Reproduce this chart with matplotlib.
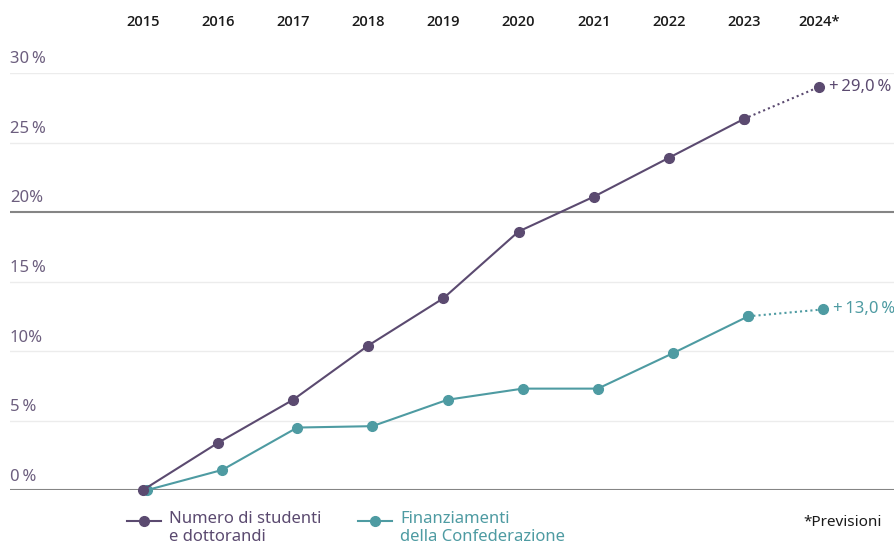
import matplotlib.pyplot as plt
from matplotlib.lines import Line2D
from matplotlib.transforms import ScaledTranslation, blended_transform_factory

plt.rcParams['font.family'] = ['Noto Sans', 'DejaVu Sans']

# dati (variazione % rispetto al 2015)
years = [2015, 2016, 2017, 2018, 2019, 2020, 2021, 2022, 2023, 2024]
year_labels = ['2015', '2016', '2017', '2018', '2019', '2020', '2021', '2022', '2023', '2024*']
studenti = [0.0, 3.4, 6.5, 10.4, 13.8, 18.6, 21.1, 23.9, 26.7, 29.0]
finanziamenti = [0.0, 1.45, 4.5, 4.6, 6.5, 7.3, 7.3, 9.85, 12.5, 13.0]
y_ticks = [0, 5, 10, 15, 20, 25, 30]
y_tick_labels = ['0\u2009%', '5\u2009%', '10%', '15\u2009%', '20%', '25\u2009%', '30\u2009%']
end_labels = ['+\u200929,0\u2009%', '+\u200913,0\u2009%']
series_names = ['Numero di studenti\ne dottorandi', 'Finanziamenti\ndella Confederazione']

purple = '#5b4a70'
teal = '#4e9ba2'
label_col = '#6c5e7e'

fig = plt.figure(figsize=(8.95, 5.47), dpi=100)
ax = fig.add_axes([0.011, 0.104, 0.989, 0.7625])
ax.set_xlim(2013.23, 2025.01)
ax.set_ylim(0, 30)

# griglia orizzontale
for t in y_ticks:
    if t in (0, 20):
        ax.axhline(t, color='#858585', lw=1.5, zorder=1)
    else:
        ax.axhline(t, color='#ececec', lw=1.0, zorder=1)

# etichette asse y sopra le linee
tr = blended_transform_factory(ax.transAxes, ax.transData)
for t, lab in zip(y_ticks, y_tick_labels):
    ax.text(0.0, t, lab, transform=tr + ScaledTranslation(0, 4 / 72, fig.dpi_scale_trans),
            ha='left', va='bottom', fontsize=12, color=label_col)

shift = ax.transData + ScaledTranslation(3 / 72, 0, fig.dpi_scale_trans)

# serie: tratto pieno fino al 2023, punteggiato verso la previsione 2024
ax.plot(years[:-1], studenti[:-1], color=purple, lw=1.5, marker='o', ms=7,
        zorder=4, clip_on=False)
ax.plot(years[-2:], studenti[-2:], color=purple, lw=1.5, ls=(0, (1, 1.5)),
        marker='o', ms=7, zorder=4, clip_on=False)
ax.plot(years[:-1], finanziamenti[:-1], color=teal, lw=1.5, marker='o', ms=7,
        zorder=3, clip_on=False, transform=shift)
ax.plot(years[-2:], finanziamenti[-2:], color=teal, lw=1.5, ls=(0, (1, 1.5)),
        marker='o', ms=7, zorder=3, clip_on=False, transform=shift)

ax.annotate(end_labels[0], (years[-1], studenti[-1]), xytext=(7, 0),
            textcoords='offset points', va='center', ha='left', fontsize=12, color=purple)
ax.annotate(end_labels[1], (years[-1], finanziamenti[-1]), xytext=(10, 0),
            textcoords='offset points', va='center', ha='left', fontsize=12, color=teal)

# anni in alto
ax.set_xticks(years)
ax.set_xticklabels(year_labels, fontfamily=['Open Sans', 'DejaVu Sans'], fontweight='semibold')
ax.xaxis.tick_top()
ax.tick_params(axis='x', length=0, pad=32, labelsize=10.5, labelcolor='#1a1a1a')
ax.set_yticks([])
for s in ax.spines.values():
    s.set_visible(False)

# legenda disegnata a mano: simbolo allineato alla prima riga
legend_x = [0.142, 0.4]
for x0, name, c in zip(legend_x, series_names, [purple, teal]):
    fig.add_artist(Line2D([x0, x0 + 0.038], [0.047, 0.047], color=c, lw=1.5))
    fig.add_artist(Line2D([x0 + 0.019], [0.047], color=c, marker='o', ms=7))
    fig.text(x0 + 0.047, 0.066, name, ha='left', va='top', fontsize=12, color=c,
             linespacing=1.2)

fig.text(0.985, 0.045, '*Previsioni', ha='right', va='center', fontsize=11, color='#1a1a1a')

fig.savefig('out.png', dpi=100)
